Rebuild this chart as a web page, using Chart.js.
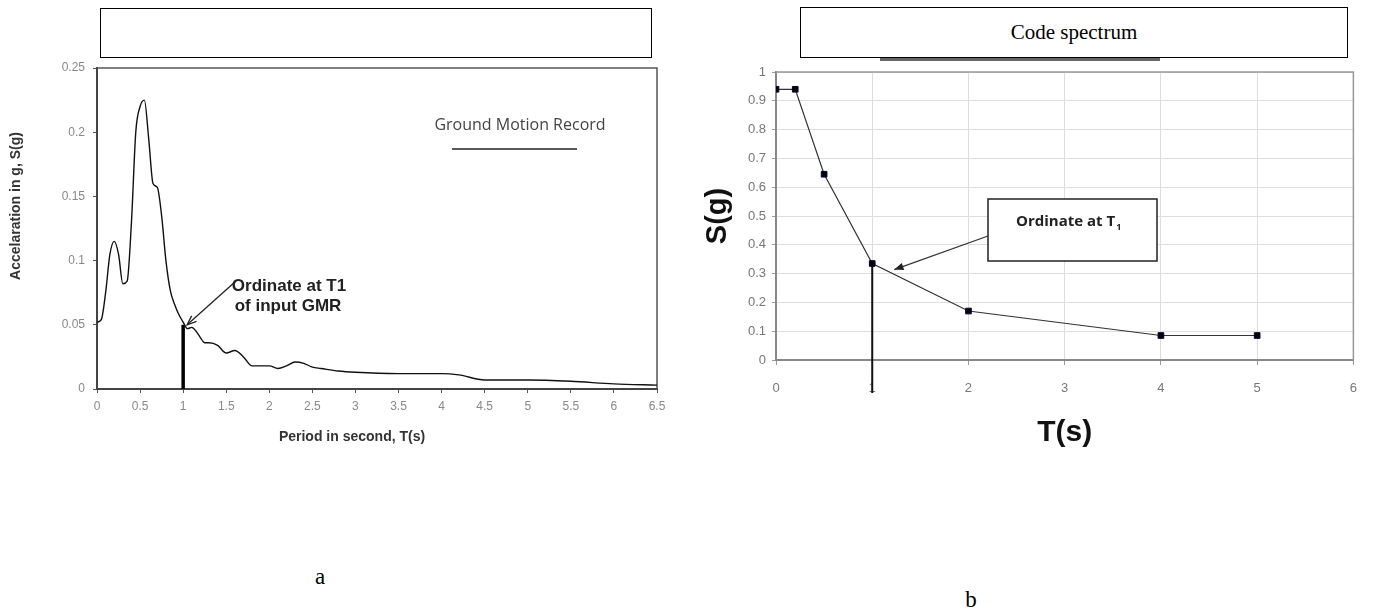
<!DOCTYPE html>
<html>
<head>
<meta charset="utf-8">
<script src="https://cdn.jsdelivr.net/npm/chart.js@4.4.1/dist/chart.umd.min.js"></script>
<style>
  html, body { margin: 0; padding: 0; background: #fff; }
  #page { position: relative; width: 1373px; height: 613px; overflow: hidden; background: #fff; }
  canvas { position: absolute; top: 0; }
  #chartA { left: 0; }
  #chartB { left: 690px; }
  .titlebox {
    position: absolute; box-sizing: border-box; border: 1.5px solid #000; background: #fff; z-index: 3;
    font-family: 'Liberation Serif', 'Times New Roman', serif; font-size: 21px; color: #000;
    display: flex; align-items: center; justify-content: center;
  }
  #boxA { left: 100px; top: 8px; width: 552px; height: 50px; }
  #boxB { left: 800px; top: 7px; width: 548px; height: 51px; }
  #shadowB { position: absolute; left: 880px; top: 57px; width: 280px; height: 4px; background: #666; z-index: 2; }
  .caption {
    position: absolute; transform: translate(-50%, -50%); z-index: 3;
    font-family: 'Liberation Serif', 'Times New Roman', serif; font-size: 23px; color: #000;
  }
</style>
</head>
<body>
<div id="page">
  <canvas id="chartA" width="690" height="460"></canvas>
  <canvas id="chartB" width="683" height="460"></canvas>
  <div id="boxA" class="titlebox"></div>
  <div id="shadowB"></div>
  <div id="boxB" class="titlebox">Code spectrum</div>
  <div class="caption" style="left:320px; top:577px;">a</div>
  <div class="caption" style="left:971px; top:600px;">b</div>
</div>

<script>
// ============ DATA: panel a (ground motion record) ============

const gmrPeriod = [0, 0.05, 0.1, 0.15, 0.2, 0.25, 0.3, 0.35, 0.4, 0.45, 0.5, 0.55, 0.6, 0.65, 0.7, 0.75,
    0.8, 0.85, 0.9, 0.95, 1.0, 1.05, 1.1, 1.15, 1.2, 1.25, 1.3, 1.4, 1.5, 1.6, 1.7, 1.8, 1.9, 2.0,
    2.1, 2.2, 2.3, 2.4, 2.5, 2.6, 2.8, 3.0, 3.5, 4.0, 4.2, 4.5, 5.0, 5.5, 6.0, 6.5];
const gmrAccel = [0.052, 0.054, 0.075, 0.105, 0.115, 0.105, 0.082, 0.084, 0.13, 0.2, 0.22, 0.225, 0.195,
    0.16, 0.157, 0.135, 0.1, 0.077, 0.066, 0.058, 0.052, 0.047, 0.048, 0.045, 0.04, 0.036, 0.036, 0.034,
    0.028, 0.03, 0.025, 0.018, 0.018, 0.018, 0.016, 0.018, 0.021, 0.02, 0.017, 0.016, 0.014, 0.013,
    0.012, 0.012, 0.011, 0.007, 0.007, 0.006, 0.004, 0.003];
const gmrT1Period = [1, 1];
const gmrT1Accel = [0, 0.05];
const gmrXTicks = [0, 0.5, 1, 1.5, 2, 2.5, 3, 3.5, 4, 4.5, 5, 5.5, 6, 6.5];
const gmrYTicks = [0, 0.05, 0.1, 0.15, 0.2, 0.25];

// ============ DATA: panel b (code spectrum) ============

const codePeriod = [0, 0.2, 0.5, 1, 2, 4, 5];
const codeAccel = [0.94, 0.94, 0.645, 0.335, 0.17, 0.085, 0.085];
const codeT1Period = [1, 1];
const codeT1Accel = [0.335, -0.115];
const codeXTicks = [0, 1, 2, 3, 4, 5, 6];
const codeYTicks = [0, 0.1, 0.2, 0.3, 0.4, 0.5, 0.6, 0.7, 0.8, 0.9, 1];

// ============ HELPERS ============

const SANS = "'Liberation Sans', Arial, sans-serif";
const toXY = (xs, ys) => xs.map((x, i) => ({ x: x, y: ys[i] }));
const fmt = v => String(Number(v.toFixed(3)));
const useTicks = list => scale => { scale.ticks = list.map(v => ({ value: v })); };

function drawArrow(ctx, x1, y1, x2, y2, filled) {
    const ang = Math.atan2(y2 - y1, x2 - x1);
    const len = 10, spread = 0.38;
    ctx.beginPath();
    ctx.moveTo(x1, y1);
    ctx.lineTo(x2, y2);
    ctx.stroke();
    ctx.beginPath();
    ctx.moveTo(x2 - len * Math.cos(ang - spread), y2 - len * Math.sin(ang - spread));
    ctx.lineTo(x2, y2);
    ctx.lineTo(x2 - len * Math.cos(ang + spread), y2 - len * Math.sin(ang + spread));
    if (filled) { ctx.closePath(); ctx.fill(); } else { ctx.stroke(); }
}

// ============ PANEL A NOTES ============

const gmrNotes = {
    id: 'gmrNotes',
    beforeDatasetsDraw(chart) {
        const { ctx, chartArea: a } = chart;
        ctx.save();
        ctx.strokeStyle = '#555';
        ctx.lineWidth = 1.5;
        ctx.beginPath();
        ctx.moveTo(a.left, a.top);
        ctx.lineTo(a.right, a.top);
        ctx.lineTo(a.right, a.bottom);
        ctx.stroke();
        ctx.restore();
    },
    afterDraw(chart) {
        const { ctx, scales } = chart;
        ctx.save();
        ctx.textAlign = 'center';
        ctx.textBaseline = 'middle';

        // legend-like label
        ctx.fillStyle = '#444';
        ctx.font = "16px 'Open Sans', sans-serif";
        ctx.fillText('Ground Motion Record', 520, 125);
        ctx.strokeStyle = '#222';
        ctx.lineWidth = 1.5;
        ctx.beginPath();
        ctx.moveTo(452, 149);
        ctx.lineTo(577, 149);
        ctx.stroke();

        // ordinate note
        ctx.fillStyle = '#222';
        ctx.font = 'bold 17px ' + SANS;
        ctx.fillText('Ordinate at T1', 289, 286);
        ctx.fillText('of input GMR', 288, 306);
        const tipX = scales.x.getPixelForValue(gmrT1Period[1]) + 4;
        const tipY = scales.y.getPixelForValue(gmrT1Accel[1]);
        ctx.strokeStyle = '#222';
        ctx.lineWidth = 1.3;
        drawArrow(ctx, 236, 281, tipX, tipY, false);

        // axis titles
        ctx.fillStyle = '#333';
        ctx.font = 'bold 14px ' + SANS;
        ctx.fillText('Period in second, T(s)', 352, 437);
        ctx.translate(16, 206);
        ctx.rotate(-Math.PI / 2);
        ctx.fillText('Accelaration in g, S(g)', 0, 0);
        ctx.restore();
    }
};

// ============ PANEL B NOTES ============

const codeNotes = {
    id: 'codeNotes',
    beforeDatasetsDraw(chart) {
        const { ctx, chartArea: a } = chart;
        ctx.save();
        ctx.strokeStyle = '#999';
        ctx.lineWidth = 1.5;
        ctx.beginPath();
        ctx.moveTo(a.left, a.top);
        ctx.lineTo(a.right, a.top);
        ctx.lineTo(a.right, a.bottom);
        ctx.stroke();
        ctx.restore();
    },
    afterDraw(chart) {
        const { ctx, scales } = chart;
        ctx.save();
        // boxed note
        ctx.fillStyle = '#fff';
        ctx.fillRect(298, 199, 169, 62);
        ctx.strokeStyle = '#222';
        ctx.lineWidth = 1.5;
        ctx.strokeRect(298, 199, 169, 62);

        ctx.fillStyle = '#222';
        ctx.textAlign = 'left';
        ctx.textBaseline = 'middle';
        ctx.font = "bold 15px 'Open Sans', sans-serif";
        ctx.fillText('Ordinate at T', 326, 222);
        const w = ctx.measureText('Ordinate at T').width;
        ctx.font = "bold 9px 'Open Sans', sans-serif";
        ctx.fillText('1', 326 + w + 1, 227);

        const tipX = scales.x.getPixelForValue(codePeriod[3]) + 22;
        const tipY = scales.y.getPixelForValue(codeAccel[3]) + 6;
        ctx.strokeStyle = '#333';
        ctx.fillStyle = '#222';
        ctx.lineWidth = 1.3;
        drawArrow(ctx, 298, 236, tipX, tipY, true);
        ctx.restore();
    }
};

// ============ CHART A ============

new Chart(document.getElementById('chartA'), {
    type: 'scatter',
    data: {
        datasets: [
            {
                data: toXY(gmrPeriod, gmrAccel),
                showLine: true,
                borderColor: '#111',
                borderWidth: 1.4,
                pointRadius: 0,
                cubicInterpolationMode: 'monotone'
            },
            {
                data: toXY(gmrT1Period, gmrT1Accel),
                showLine: true,
                borderColor: '#000',
                borderWidth: 3.5,
                pointRadius: 0
            }
        ]
    },
    options: {
        responsive: false,
        animation: false,
        events: [],
        layout: { padding: { left: 0, top: 68, right: 33, bottom: 0 } },
        plugins: { legend: { display: false }, tooltip: { enabled: false } },
        scales: {
            x: {
                type: 'linear', min: 0, max: 6.5,
                afterBuildTicks: useTicks(gmrXTicks),
                afterFit: s => { s.height = 71; },
                ticks: { color: '#888', font: { family: SANS, size: 12 }, padding: 6, maxRotation: 0, callback: fmt },
                grid: { drawOnChartArea: false, tickLength: 4, color: '#555' },
                border: { color: '#444', width: 2 }
            },
            y: {
                type: 'linear', min: 0, max: 0.25,
                afterBuildTicks: useTicks(gmrYTicks),
                afterFit: s => { s.width = 97; },
                ticks: { color: '#888', font: { family: SANS, size: 12 }, padding: 8, callback: fmt },
                grid: { drawOnChartArea: false, tickLength: 4, color: '#555' },
                border: { color: '#444', width: 2 }
            }
        }
    },
    plugins: [gmrNotes]
});

// ============ CHART B ============

new Chart(document.getElementById('chartB'), {
    type: 'scatter',
    data: {
        datasets: [
            {
                data: toXY(codePeriod, codeAccel),
                showLine: true,
                borderColor: '#333',
                borderWidth: 1.2,
                pointStyle: 'rect',
                pointRadius: 4,
                pointBackgroundColor: '#000',
                pointBorderColor: '#000033',
                pointBorderWidth: 1
            },
            {
                data: toXY(codeT1Period, codeT1Accel),
                showLine: true,
                borderColor: '#111',
                borderWidth: 2,
                pointRadius: 0,
                clip: false
            }
        ]
    },
    options: {
        responsive: false,
        animation: false,
        events: [],
        layout: { padding: { left: 0, top: 72, right: 14, bottom: 0 } },
        plugins: { legend: { display: false }, tooltip: { enabled: false } },
        scales: {
            x: {
                type: 'linear', min: 0, max: 6,
                afterBuildTicks: useTicks(codeXTicks),
                afterFit: s => { s.height = 100; },
                ticks: { color: '#777', font: { family: SANS, size: 13 }, padding: 16, maxRotation: 0, callback: fmt },
                grid: { color: '#ddd', tickLength: 5, tickColor: '#999' },
                border: { color: '#888', width: 2 },
                title: { display: true, text: 'T(s)', color: '#111', font: { family: SANS, size: 30, weight: 'bold' }, padding: { top: 0, bottom: 9 } }
            },
            y: {
                type: 'linear', min: 0, max: 1,
                afterBuildTicks: useTicks(codeYTicks),
                afterFit: s => { s.width = 86; },
                ticks: { color: '#777', font: { family: SANS, size: 13 }, padding: 6, callback: fmt },
                grid: { color: '#ddd', tickLength: 4, tickColor: '#999' },
                border: { color: '#888', width: 2 },
                title: { display: true, text: 'S(g)', color: '#111', font: { family: SANS, size: 29, weight: 'bold' }, padding: { top: 11, bottom: 0 } }
            }
        }
    },
    plugins: [codeNotes]
});
</script>
</body>
</html>
